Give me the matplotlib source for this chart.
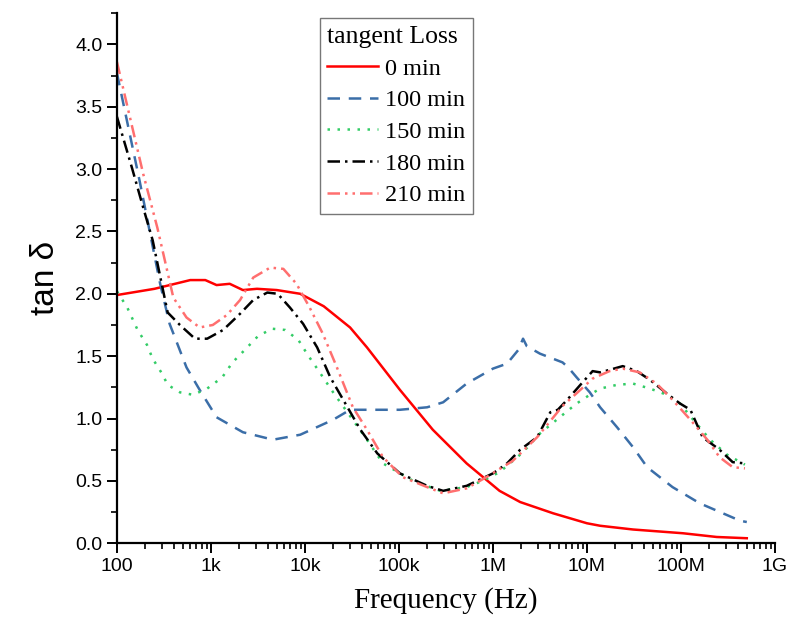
#!/usr/bin/env python3
"""Dielectric tangent loss vs frequency for several treatment times."""

import numpy as np
import matplotlib

matplotlib.use("Agg")
import matplotlib.pyplot as plt
from matplotlib.ticker import FixedLocator, LogLocator, NullFormatter, MultipleLocator

# log10(frequency / Hz) and tan(delta)
t0_logf = [2.0, 2.4, 2.78, 2.94, 3.06, 3.20, 3.34, 3.49, 3.7, 3.95, 4.2, 4.48, 4.66,
           5.01, 5.36, 5.72, 6.07, 6.29, 6.64, 7.0, 7.14, 7.49, 8.02, 8.38, 8.70]
t0_tan = [1.99, 2.04, 2.11, 2.11, 2.07, 2.08, 2.03, 2.04, 2.03, 2.00, 1.90, 1.73, 1.57,
          1.23, 0.91, 0.64, 0.42, 0.33, 0.24, 0.16, 0.14, 0.11, 0.08, 0.05, 0.04]

t100_logf = [2.0, 2.24, 2.46, 2.56, 2.74, 2.88, 3.06, 3.34, 3.66, 3.95, 4.30, 4.48,
             4.8, 5.01, 5.30, 5.47, 5.72, 6.0, 6.15, 6.27, 6.32, 6.36, 6.50, 6.74,
             6.80, 6.89, 7.03, 7.14, 7.32, 7.49, 7.64, 7.91, 8.20, 8.63, 8.70]
t100_tan = [3.77, 2.91, 2.08, 1.76, 1.41, 1.23, 1.01, 0.89, 0.83, 0.87, 0.99, 1.07,
            1.07, 1.07, 1.09, 1.13, 1.28, 1.40, 1.44, 1.55, 1.64, 1.58, 1.52, 1.45,
            1.41, 1.33, 1.21, 1.09, 0.93, 0.77, 0.61, 0.45, 0.32, 0.18, 0.17]

t150_logf = [2.0, 2.11, 2.22, 2.32, 2.38, 2.48, 2.54, 2.67, 2.81, 2.96, 3.12, 3.23,
             3.36, 3.50, 3.65, 3.79, 3.93, 4.03, 4.13, 4.30, 4.66, 4.83, 5.15, 5.44,
             5.72, 5.89, 6.07, 6.18, 6.32, 6.50, 6.71, 6.89, 7.03, 7.14, 7.32, 7.49,
             7.67, 7.85, 7.99, 8.13, 8.31, 8.49, 8.68]
t150_tan = [2.02, 1.89, 1.71, 1.59, 1.48, 1.36, 1.27, 1.21, 1.19, 1.24, 1.33, 1.45,
            1.55, 1.66, 1.72, 1.71, 1.63, 1.51, 1.40, 1.21, 0.83, 0.64, 0.50, 0.42,
            0.45, 0.50, 0.57, 0.64, 0.73, 0.88, 1.01, 1.12, 1.19, 1.24, 1.27, 1.28,
            1.24, 1.19, 1.12, 0.99, 0.83, 0.71, 0.63]

t180_logf = [2.0, 2.16, 2.28, 2.38, 2.49, 2.54, 2.67, 2.83, 2.96, 3.13, 3.31, 3.45,
             3.60, 3.71, 3.84, 3.98, 4.13, 4.27, 4.43, 4.59, 4.77, 5.01, 5.30, 5.47,
             5.72, 6.0, 6.15, 6.29, 6.47, 6.61, 6.69, 6.79, 6.93, 7.06, 7.14, 7.24,
             7.38, 7.53, 7.67, 7.85, 7.99, 8.10, 8.23, 8.41, 8.55, 8.68]
t180_tan = [3.42, 3.01, 2.69, 2.43, 2.03, 1.85, 1.75, 1.64, 1.64, 1.71, 1.84, 1.95,
            2.01, 2.00, 1.89, 1.76, 1.57, 1.33, 1.12, 0.91, 0.72, 0.56, 0.46, 0.42,
            0.46, 0.56, 0.64, 0.75, 0.85, 1.05, 1.07, 1.15, 1.27, 1.38, 1.37, 1.39,
            1.42, 1.38, 1.31, 1.20, 1.12, 1.07, 0.85, 0.75, 0.65, 0.64]

t210_logf = [2.0, 2.14, 2.28, 2.43, 2.60, 2.74, 2.88, 3.02, 3.17, 3.31, 3.45, 3.63,
             3.77, 3.91, 4.05, 4.19, 4.34, 4.51, 4.66, 4.83, 5.04, 5.30, 5.47, 5.72,
             5.93, 6.21, 6.47, 6.74, 6.93, 7.06, 7.24, 7.38, 7.56, 7.74, 7.91, 8.10,
             8.28, 8.41, 8.55, 8.68]
t210_tan = [3.86, 3.41, 2.96, 2.53, 1.97, 1.81, 1.73, 1.75, 1.83, 1.95, 2.13, 2.21,
            2.20, 2.08, 1.89, 1.68, 1.41, 1.09, 0.91, 0.69, 0.53, 0.45, 0.40, 0.44,
            0.53, 0.66, 0.85, 1.10, 1.23, 1.32, 1.38, 1.40, 1.37, 1.28, 1.15, 0.99,
            0.83, 0.69, 0.61, 0.60]

xtick_vals = [1e2, 1e3, 1e4, 1e5, 1e6, 1e7, 1e8, 1e9]
xtick_labels = ["100", "1k", "10k", "100k", "1M", "10M", "100M", "1G"]

series = [
    ("0 min", t0_logf, t0_tan, "#ff0000", "-"),
    ("100 min", t100_logf, t100_tan, "#3b6ea8", (0, (5, 3.5))),
    ("150 min", t150_logf, t150_tan, "#33cc66", (0, (1, 3))),
    ("180 min", t180_logf, t180_tan, "#000000", (0, (5, 2, 1, 2))),
    ("210 min", t210_logf, t210_tan, "#ff6f6f", (0, (5, 2, 1, 2, 1, 2))),
]

plt.rcParams["font.family"] = ["Liberation Sans", "DejaVu Sans"]

fig = plt.figure(figsize=(7.9, 6.28), dpi=100)
ax = fig.add_axes([0.148, 0.135, 0.833, 0.844])

for label, logf, tan, color, ls in series:
    ax.plot(10 ** np.asarray(logf), tan, color=color, linestyle=ls, lw=1.8, label=label)

ax.set_xscale("log")
ax.set_xlim(1e2, 1e9)
ax.set_ylim(0, 4.25)
ax.xaxis.set_major_locator(FixedLocator(xtick_vals))
ax.set_xticklabels(xtick_labels)
ax.xaxis.set_minor_locator(LogLocator(base=10, subs=np.arange(2, 10), numticks=20))
ax.xaxis.set_minor_formatter(NullFormatter())
ax.yaxis.set_major_locator(MultipleLocator(0.5))
ax.yaxis.set_minor_locator(MultipleLocator(0.25))
ax.yaxis.set_major_formatter(matplotlib.ticker.FormatStrFormatter("%.1f"))

for side in ("top", "right"):
    ax.spines[side].set_visible(False)
for side in ("left", "bottom"):
    ax.spines[side].set_linewidth(1.6)
ax.tick_params(which="major", direction="out", length=7, width=1.4, labelsize=14)
ax.tick_params(which="minor", direction="out", length=4, width=1.2)

ax.set_xlabel("Frequency (Hz)", family="Liberation Serif", fontsize=21, labelpad=9)
ax.set_ylabel("tan δ", fontsize=24, labelpad=10)

leg = ax.legend(
    title="tangent Loss",
    loc="upper left",
    bbox_to_anchor=(0.308, 0.99),
    prop={"family": "Liberation Serif", "size": 17.5},
    title_fontproperties={"family": "Liberation Serif", "size": 18.5},
    frameon=True,
    fancybox=False,
    edgecolor="#555555",
    handlelength=2.1,
    handletextpad=0.3,
    labelspacing=0.4,
    borderpad=0.3,
    borderaxespad=0,
)
leg._legend_box.align = "left"
leg.get_frame().set_linewidth(1.0)

fig.savefig("out.png", dpi=100)
